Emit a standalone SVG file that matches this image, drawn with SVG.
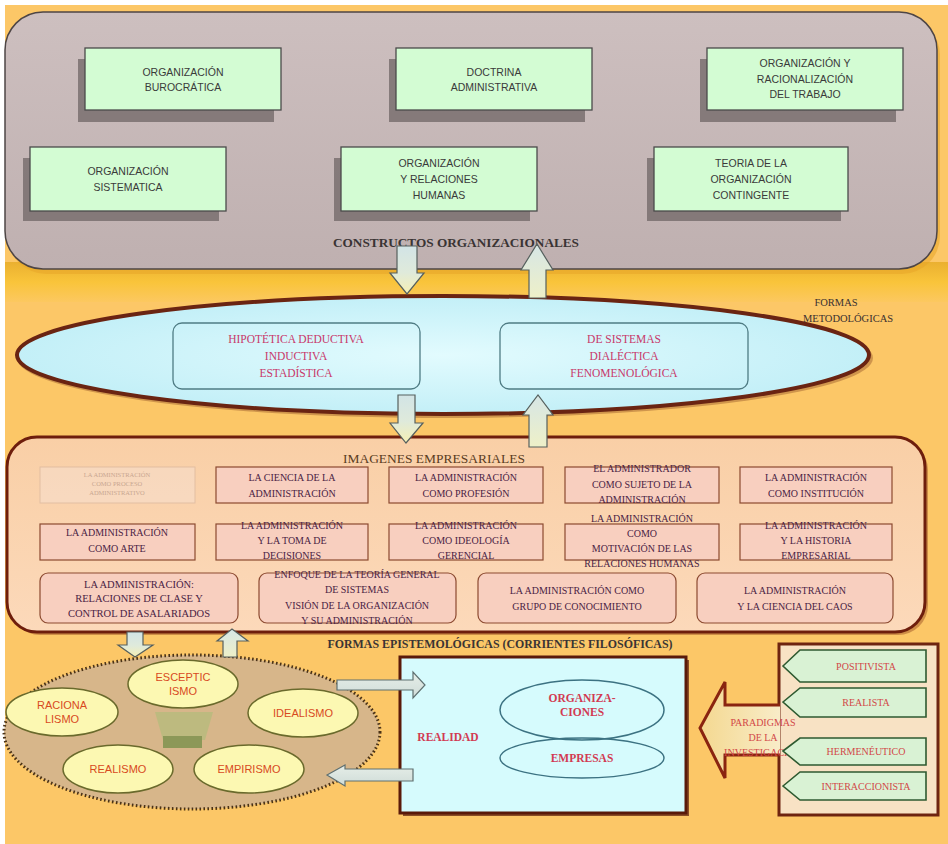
<svg xmlns="http://www.w3.org/2000/svg" width="948" height="844" viewBox="0 0 948 844">
  <defs>
    <linearGradient id="topFill" x1="0" y1="0" x2="0" y2="1">
      <stop offset="0" stop-color="#cdbfbf"/>
      <stop offset="1" stop-color="#bfb0b0"/>
    </linearGradient>
    <radialGradient id="ellFill" cx="0.5" cy="0.5" r="0.6">
      <stop offset="0" stop-color="#e2fbfe"/>
      <stop offset="1" stop-color="#bdedf6"/>
    </radialGradient>
    <linearGradient id="imgFill" x1="0" y1="0" x2="0" y2="1">
      <stop offset="0" stop-color="#f9cfa6"/>
      <stop offset="1" stop-color="#fcd9ba"/>
    </linearGradient>
    <linearGradient id="band" x1="0" y1="0" x2="0" y2="1">
      <stop offset="0" stop-color="#eab030"/>
      <stop offset="0.5" stop-color="#f9c43a"/>
      <stop offset="1" stop-color="#fcc860"/>
    </linearGradient>
    <linearGradient id="arrDown" x1="0" y1="0" x2="0" y2="1">
      <stop offset="0" stop-color="#d2e4e6"/>
      <stop offset="0.55" stop-color="#dfeadb"/>
      <stop offset="1" stop-color="#f6f0b4"/>
    </linearGradient>
    <linearGradient id="arrUp" x1="0" y1="0" x2="0" y2="1">
      <stop offset="0" stop-color="#d6e6e6"/>
      <stop offset="1" stop-color="#eef0c8"/>
    </linearGradient>
    <linearGradient id="arrSide" x1="0" y1="0" x2="0" y2="1">
      <stop offset="0" stop-color="#e6eee8"/>
      <stop offset="1" stop-color="#cfdcd8"/>
    </linearGradient>
    <linearGradient id="bigArr" x1="0" y1="0" x2="1" y2="0">
      <stop offset="0" stop-color="#f4d890"/>
      <stop offset="1" stop-color="#f8ecc8"/>
    </linearGradient>
    <style>
      .gbox { fill: #d3fcd3; stroke: #4a4a4a; stroke-width: 1.3; }
      .gshadow { fill: #6f6565; opacity: 0.75; }
      .gtxt { font-family: "Liberation Sans", Arial, sans-serif; font-size: 10.5px; fill: #3a3a3a; text-anchor: middle; }
      .hdr { font-family: "Liberation Serif", "Times New Roman", serif; font-weight: bold; font-size: 12.5px; fill: #3a3434; text-anchor: middle; }
      .hdr2 { font-family: "Liberation Serif", "Times New Roman", serif; font-size: 12.5px; fill: #5a3c22; text-anchor: middle; }
      .met { font-family: "Liberation Serif", "Times New Roman", serif; font-size: 11.5px; fill: #c8386a; text-anchor: middle; }
      .lbl { font-family: "Liberation Serif", "Times New Roman", serif; font-size: 10.5px; fill: #3a3030; text-anchor: middle; }
      .metbox { fill: none; stroke: #4f7c84; stroke-width: 1.3; }
      .ibox { fill: #f8cfbf; stroke: #8c4a30; stroke-width: 1.2; }
      .itxt { font-family: "Liberation Serif", "Times New Roman", serif; font-size: 10px; fill: #4a2244; text-anchor: middle; }
      .pel { fill: #fcf8b2; stroke: #6a6a2c; stroke-width: 1.5; }
      .ptxt { font-family: "Liberation Sans", Arial, sans-serif; font-size: 11px; fill: #d84a1e; text-anchor: middle; }
      .rtxt { font-family: "Liberation Serif", "Times New Roman", serif; font-weight: bold; font-size: 11.5px; fill: #d23a52; text-anchor: middle; }
      .rel { fill: none; stroke: #3c7282; stroke-width: 1.5; }
      .tag { fill: #d9f2d4; stroke: #2e5a30; stroke-width: 1.6; }
      .ttxt { font-family: "Liberation Serif", "Times New Roman", serif; font-size: 10px; fill: #d24848; text-anchor: middle; }
      .varr { stroke: #56605e; stroke-width: 1.2; }
      .harr { fill: url(#arrSide); stroke: #5f7070; stroke-width: 1.2; }
    </style>
  </defs>

  <!-- page -->
  <rect x="0" y="0" width="948" height="844" fill="#ffffff"/>
  <rect x="5" y="5" width="943" height="839" fill="#fcc767"/>
  <rect x="5" y="262" width="943" height="40" fill="url(#band)"/>

  <!-- upper container: organisational constructs -->
  <g id="constructos">
    <rect x="8" y="17" width="932" height="257" rx="38" fill="#e8a628" opacity="0.55"/>
    <rect x="5" y="12" width="932" height="257" rx="38" fill="url(#topFill)" stroke="#4d4545" stroke-width="1.5"/>
    <text class="hdr" x="456" y="247" textLength="246" lengthAdjust="spacingAndGlyphs">CONSTRUCTOS  ORGANIZACIONALES</text>
  </g>

  <g id="org-burocratica">
    <rect class="gshadow" x="78" y="59" width="196" height="63"/>
    <rect class="gbox" x="85" y="48" width="196" height="62"/>
    <text class="gtxt" x="183" y="76">ORGANIZACIÓN</text>
    <text class="gtxt" x="183" y="91">BUROCRÁTICA</text>
  </g>
  <g id="doctrina-administrativa">
    <rect class="gshadow" x="389" y="59" width="196" height="63"/>
    <rect class="gbox" x="396" y="48" width="196" height="62"/>
    <text class="gtxt" x="494" y="76">DOCTRINA</text>
    <text class="gtxt" x="494" y="91">ADMINISTRATIVA</text>
  </g>
  <g id="org-racionalizacion">
    <rect class="gshadow" x="700" y="59" width="196" height="63"/>
    <rect class="gbox" x="707" y="48" width="196" height="62"/>
    <text class="gtxt" x="805" y="67">ORGANIZACIÓN Y</text>
    <text class="gtxt" x="805" y="83">RACIONALIZACIÓN</text>
    <text class="gtxt" x="805" y="98">DEL TRABAJO</text>
  </g>
  <g id="org-sistematica">
    <rect class="gshadow" x="23" y="158" width="196" height="63"/>
    <rect class="gbox" x="30" y="147" width="196" height="64"/>
    <text class="gtxt" x="128" y="175">ORGANIZACIÓN</text>
    <text class="gtxt" x="128" y="191">SISTEMATICA</text>
  </g>
  <g id="org-relaciones-humanas">
    <rect class="gshadow" x="334" y="158" width="196" height="63"/>
    <rect class="gbox" x="341" y="147" width="196" height="64"/>
    <text class="gtxt" x="439" y="167">ORGANIZACIÓN</text>
    <text class="gtxt" x="439" y="183">Y RELACIONES</text>
    <text class="gtxt" x="439" y="199">HUMANAS</text>
  </g>
  <g id="teoria-contingente">
    <rect class="gshadow" x="647" y="158" width="194" height="63"/>
    <rect class="gbox" x="654" y="147" width="194" height="64"/>
    <text class="gtxt" x="751" y="167">TEORIA DE LA</text>
    <text class="gtxt" x="751" y="183">ORGANIZACIÓN</text>
    <text class="gtxt" x="751" y="199">CONTINGENTE</text>
  </g>

  <!-- methodological forms -->
  <g id="formas-metodologicas">
    <ellipse cx="445" cy="358" rx="428" ry="60" fill="#7a3a1a" opacity="0.35"/>
    <ellipse cx="443" cy="355" rx="426" ry="59" fill="url(#ellFill)" stroke="#6a2412" stroke-width="4"/>
    <text class="lbl" x="836" y="306">FORMAS</text>
    <text class="lbl" x="848" y="322">METODOLÓGICAS</text>
  </g>
  <g id="met-deductiva">
    <rect class="metbox" x="173" y="323" width="247" height="66" rx="9"/>
    <text class="met" x="296" y="343">HIPOTÉTICA DEDUCTIVA</text>
    <text class="met" x="296" y="360">INDUCTIVA</text>
    <text class="met" x="296" y="377">ESTADÍSTICA</text>
  </g>
  <g id="met-sistemas">
    <rect class="metbox" x="500" y="323" width="248" height="66" rx="9"/>
    <text class="met" x="624" y="343">DE SISTEMAS</text>
    <text class="met" x="624" y="360">DIALÉCTICA</text>
    <text class="met" x="624" y="377">FENOMENOLÓGICA</text>
  </g>

  <!-- business images -->
  <g id="imagenes-empresariales">
    <rect x="10" y="440" width="918" height="195" rx="30" fill="#8a3a1a" opacity="0.4"/>
    <rect x="7" y="437" width="918" height="195" rx="30" fill="url(#imgFill)" stroke="#6e1e0c" stroke-width="3"/>
    <text class="hdr2" x="434" y="463" textLength="182" lengthAdjust="spacingAndGlyphs">IMAGENES  EMPRESARIALES</text>
  </g>
  <g id="img-proceso" opacity="0.45">
    <rect x="40" y="467" width="155" height="36" fill="#f6e2d6" stroke="#c8a898" stroke-width="1"/>
    <text class="itxt" x="117" y="477" style="font-size:6.5px;fill:#8a7070">LA ADMINISTRACIÓN</text>
    <text class="itxt" x="117" y="486" style="font-size:6.5px;fill:#8a7070">COMO PROCESO</text>
    <text class="itxt" x="117" y="495" style="font-size:6.5px;fill:#8a7070">ADMINISTRATIVO</text>
  </g>
  <g id="img-ciencia">
    <rect class="ibox" x="216" y="467" width="152" height="36"/>
    <text class="itxt" x="292" y="481">LA CIENCIA DE LA</text>
    <text class="itxt" x="292" y="497">ADMINISTRACIÓN</text>
  </g>
  <g id="img-profesion">
    <rect class="ibox" x="389" y="467" width="154" height="36"/>
    <text class="itxt" x="466" y="481">LA ADMINISTRACIÓN</text>
    <text class="itxt" x="466" y="497">COMO PROFESIÓN</text>
  </g>
  <g id="img-sujeto">
    <rect class="ibox" x="565" y="467" width="154" height="36"/>
    <text class="itxt" x="642" y="472">EL ADMINISTRADOR</text>
    <text class="itxt" x="642" y="488">COMO SUJETO DE LA</text>
    <text class="itxt" x="642" y="503">ADMINISTRACIÓN</text>
  </g>
  <g id="img-institucion">
    <rect class="ibox" x="740" y="467" width="152" height="36"/>
    <text class="itxt" x="816" y="481">LA ADMINISTRACIÓN</text>
    <text class="itxt" x="816" y="497">COMO INSTITUCIÓN</text>
  </g>
  <g id="img-arte">
    <rect class="ibox" x="40" y="524" width="155" height="36"/>
    <text class="itxt" x="117" y="536">LA ADMINISTRACIÓN</text>
    <text class="itxt" x="117" y="552">COMO ARTE</text>
  </g>
  <g id="img-decisiones">
    <rect class="ibox" x="216" y="524" width="152" height="36"/>
    <text class="itxt" x="292" y="529">LA ADMINISTRACIÓN</text>
    <text class="itxt" x="292" y="544">Y LA TOMA DE</text>
    <text class="itxt" x="292" y="559">DECISIONES</text>
  </g>
  <g id="img-ideologia">
    <rect class="ibox" x="389" y="524" width="154" height="36"/>
    <text class="itxt" x="466" y="529">LA ADMINISTRACIÓN</text>
    <text class="itxt" x="466" y="544">COMO IDEOLOGÍA</text>
    <text class="itxt" x="466" y="559">GERENCIAL</text>
  </g>
  <g id="img-motivacion">
    <rect class="ibox" x="565" y="524" width="154" height="36"/>
    <text class="itxt" x="642" y="522">LA ADMINISTRACIÓN</text>
    <text class="itxt" x="642" y="537">COMO</text>
    <text class="itxt" x="642" y="552">MOTIVACIÓN DE LAS</text>
    <text class="itxt" x="642" y="567">RELACIONES HUMANAS</text>
  </g>
  <g id="img-historia">
    <rect class="ibox" x="740" y="524" width="152" height="36"/>
    <text class="itxt" x="816" y="529">LA ADMINISTRACIÓN</text>
    <text class="itxt" x="816" y="544">Y LA HISTORIA</text>
    <text class="itxt" x="816" y="559">EMPRESARIAL</text>
  </g>
  <g id="img-clase">
    <rect class="ibox" x="40" y="573" width="198" height="50" rx="8"/>
    <text class="itxt" x="139" y="588" style="font-size:10.5px">LA ADMINISTRACIÓN:</text>
    <text class="itxt" x="139" y="602" style="font-size:10.5px">RELACIONES DE CLASE Y</text>
    <text class="itxt" x="139" y="617" style="font-size:10.5px">CONTROL DE ASALARIADOS</text>
  </g>
  <g id="img-sistemas">
    <rect class="ibox" x="259" y="573" width="197" height="50" rx="8"/>
    <text class="itxt" x="357" y="578">ENFOQUE DE LA TEORÍA GENERAL</text>
    <text class="itxt" x="357" y="593">DE SISTEMAS</text>
    <text class="itxt" x="357" y="609">VISIÓN DE LA ORGANIZACIÓN</text>
    <text class="itxt" x="357" y="624">Y SU ADMINISTRACIÓN</text>
  </g>
  <g id="img-conocimiento">
    <rect class="ibox" x="478" y="573" width="198" height="50" rx="8"/>
    <text class="itxt" x="577" y="594">LA ADMINISTRACIÓN COMO</text>
    <text class="itxt" x="577" y="610">GRUPO DE CONOCIMIENTO</text>
  </g>
  <g id="img-caos">
    <rect class="ibox" x="697" y="573" width="196" height="50" rx="8"/>
    <text class="itxt" x="795" y="594">LA ADMINISTRACIÓN</text>
    <text class="itxt" x="795" y="610">Y LA CIENCIA DEL CAOS</text>
  </g>

  <!-- epistemological forms -->
  <g id="formas-epistemologicas">
    <text class="hdr" x="500" y="648" textLength="345" lengthAdjust="spacingAndGlyphs">FORMAS EPISTEMOLÓGICAS  (CORRIENTES FILOSÓFICAS)</text>
    <ellipse cx="192" cy="732" rx="188" ry="77" fill="#d7b68a" stroke="#4a3216" stroke-width="3" stroke-dasharray="1.6 2.4"/>
    <polygon points="155,712 213,712 205,740 163,740" fill="#b9bb7c" opacity="0.85"/>
    <rect x="163" y="736" width="39" height="12" fill="#8c9858"/>
  </g>
  <g id="escepticismo">
    <ellipse class="pel" cx="183" cy="684" rx="55" ry="24"/>
    <text class="ptxt" x="183" y="681">ESCEPTIC</text>
    <text class="ptxt" x="183" y="695">ISMO</text>
  </g>
  <g id="racionalismo">
    <ellipse class="pel" cx="62" cy="712" rx="56" ry="24"/>
    <text class="ptxt" x="62" y="709">RACIONA</text>
    <text class="ptxt" x="62" y="723">LISMO</text>
  </g>
  <g id="idealismo">
    <ellipse class="pel" cx="303" cy="713" rx="55" ry="24"/>
    <text class="ptxt" x="303" y="717">IDEALISMO</text>
  </g>
  <g id="realismo">
    <ellipse class="pel" cx="118" cy="769" rx="55" ry="24"/>
    <text class="ptxt" x="118" y="773">REALISMO</text>
  </g>
  <g id="empirismo">
    <ellipse class="pel" cx="249" cy="769" rx="55" ry="24"/>
    <text class="ptxt" x="249" y="773">EMPIRISMO</text>
  </g>

  <!-- reality -->
  <g id="realidad">
    <rect x="403" y="660" width="286" height="156" fill="#5a1a0a" opacity="0.7"/>
    <rect x="400" y="657" width="286" height="156" fill="#d6fbfd" stroke="#5a1a0a" stroke-width="3"/>
    <text class="rtxt" x="448" y="741">REALIDAD</text>
  </g>
  <g id="organizaciones">
    <ellipse class="rel" cx="582" cy="710" rx="82" ry="30"/>
    <text class="rtxt" x="582" y="702">ORGANIZA-</text>
    <text class="rtxt" x="582" y="716">CIONES</text>
  </g>
  <g id="empresas">
    <ellipse class="rel" cx="582" cy="758" rx="82" ry="20"/>
    <text class="rtxt" x="582" y="762">EMPRESAS</text>
  </g>

  <!-- research paradigms -->
  <g id="paradigmas">
    <rect x="779" y="644" width="159" height="171" fill="#f8e2c4" stroke="#6e2410" stroke-width="3"/>
    <path d="M780 705 L725 705 L725 682 L700 728 L725 778 L725 755 L780 755" fill="url(#bigArr)" stroke="#8a2410" stroke-width="3" stroke-linejoin="miter"/>
    <text class="ttxt" x="763" y="726">PARADIGMAS</text>
    <text class="ttxt" x="763" y="741">DE LA</text>
    <text class="ttxt" x="763" y="756">INVESTIGACIÓN</text>
  </g>
  <g id="positivista">
    <polygon class="tag" points="783,666 800,650 926,650 926,682 800,682"/>
    <text class="ttxt" x="866" y="670">POSITIVISTA</text>
  </g>
  <g id="realista">
    <polygon class="tag" points="783,702 800,688 926,688 926,717 800,717"/>
    <text class="ttxt" x="866" y="706">REALISTA</text>
  </g>
  <g id="hermeneutico">
    <polygon class="tag" points="783,751 800,738 926,738 926,765 800,765"/>
    <text class="ttxt" x="866" y="755">HERMENÉUTICO</text>
  </g>
  <g id="interaccionista">
    <polygon class="tag" points="783,786 800,772 926,772 926,800 800,800"/>
    <text class="ttxt" x="866" y="790">INTERACCIONISTA</text>
  </g>

  <!-- connectors -->
  <g id="connectors">
    <!-- constructs <-> methodological forms -->
    <path class="varr" fill="url(#arrDown)" d="M397 246 L417 246 L417 273 L424 273 L407 294 L390 273 L397 273 Z"/>
    <path class="varr" fill="url(#arrUp)" d="M529 298 L529 270 L521 270 L537 244 L553 270 L546 270 L546 298 Z"/>
    <!-- methodological forms <-> business images -->
    <path class="varr" fill="url(#arrDown)" d="M398 395 L415 395 L415 423 L423 423 L406 443 L390 423 L398 423 Z"/>
    <path class="varr" fill="url(#arrUp)" d="M529 447 L529 415 L523 415 L538 395 L553 415 L547 415 L547 447 Z"/>
    <!-- business images <-> epistemological forms -->
    <path class="varr" fill="url(#arrDown)" d="M127 632 L143 632 L143 645 L153 645 L135 657 L118 645 L127 645 Z"/>
    <path class="varr" fill="url(#arrUp)" d="M223 657 L223 641 L217 641 L232 629 L248 641 L237 641 L237 657 Z"/>
    <!-- philosophical currents <-> reality -->
    <path class="harr" d="M337 680 L413 680 L413 672 L425 685 L413 698 L413 690 L337 690 Z"/>
    <path class="harr" d="M413 769 L345 769 L345 765 L327 775 L345 786 L345 781 L413 781 Z"/>
  </g>
</svg>
